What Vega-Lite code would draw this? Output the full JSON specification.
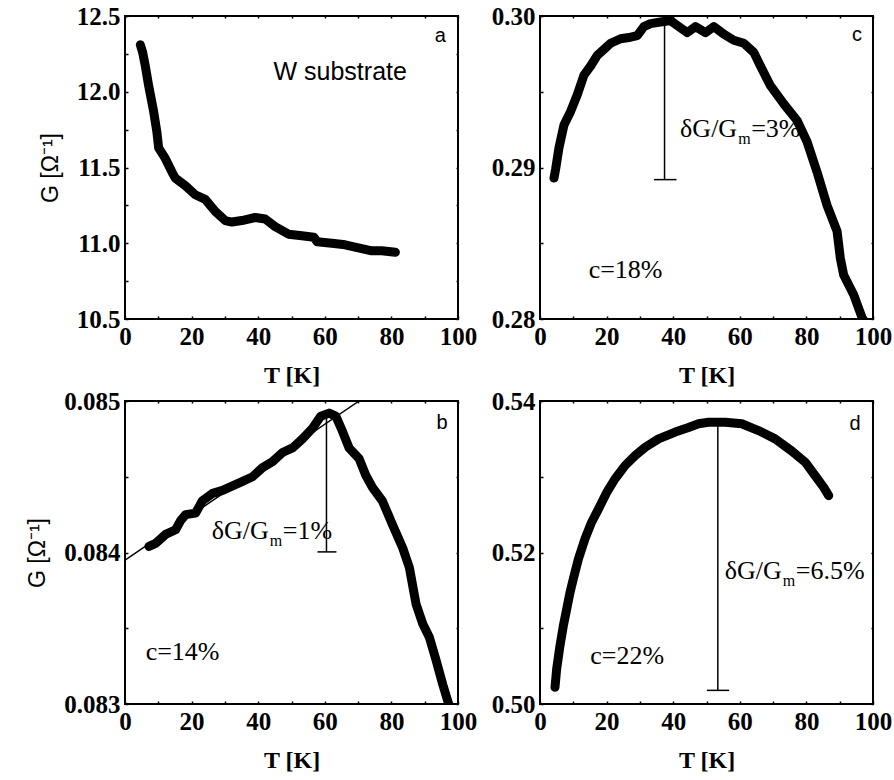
{
  "$schema": "https://vega.github.io/schema/vega-lite/v6.json",
  "padding": {"left": 25, "top": 3, "right": 0, "bottom": 0},
  "background": "white",
  "columns": 2,
  "spacing": {"row": 0, "column": 12},
  "datasets": {
    "a": [
      {"T": 4.6, "G": 12.31}, {"T": 5.3, "G": 12.26}, {"T": 6.1, "G": 12.17}, {"T": 7.1, "G": 12.04},
      {"T": 8.6, "G": 11.87}, {"T": 9.6, "G": 11.73}, {"T": 10.1, "G": 11.63}, {"T": 12.1, "G": 11.56},
      {"T": 14.1, "G": 11.47}, {"T": 15.1, "G": 11.43}, {"T": 18.1, "G": 11.38}, {"T": 21.1, "G": 11.32},
      {"T": 24.1, "G": 11.29}, {"T": 27.1, "G": 11.21}, {"T": 30.1, "G": 11.15}, {"T": 32.1, "G": 11.14},
      {"T": 35.1, "G": 11.15}, {"T": 39.1, "G": 11.17}, {"T": 42.1, "G": 11.16}, {"T": 45.1, "G": 11.11},
      {"T": 49.1, "G": 11.06}, {"T": 53.1, "G": 11.05}, {"T": 56.7, "G": 11.04}, {"T": 57.7, "G": 11.01},
      {"T": 62.1, "G": 11.0}, {"T": 66.1, "G": 10.99}, {"T": 70.1, "G": 10.97}, {"T": 74.1, "G": 10.95},
      {"T": 77.1, "G": 10.95}, {"T": 81.2, "G": 10.94}
    ],
    "c": [
      {"T": 4.2, "G": 0.2893}, {"T": 4.7, "G": 0.2899}, {"T": 5.7, "G": 0.2913}, {"T": 7.2, "G": 0.2928},
      {"T": 9.2, "G": 0.2937}, {"T": 11.2, "G": 0.2948}, {"T": 13.2, "G": 0.2961}, {"T": 15.2, "G": 0.2967},
      {"T": 17.2, "G": 0.2974}, {"T": 19.2, "G": 0.2978}, {"T": 21.2, "G": 0.2982}, {"T": 24.2, "G": 0.2985},
      {"T": 27.2, "G": 0.2986}, {"T": 29.2, "G": 0.2987}, {"T": 31.2, "G": 0.2993}, {"T": 33.2, "G": 0.2995},
      {"T": 36.2, "G": 0.2996}, {"T": 39.2, "G": 0.2997}, {"T": 41.7, "G": 0.2993}, {"T": 44.2, "G": 0.2989},
      {"T": 46.7, "G": 0.2993}, {"T": 49.7, "G": 0.2989}, {"T": 52.2, "G": 0.2993}, {"T": 55.2, "G": 0.2988},
      {"T": 58.2, "G": 0.2984}, {"T": 61.2, "G": 0.2982}, {"T": 64.2, "G": 0.2976}, {"T": 66.2, "G": 0.2967},
      {"T": 69.2, "G": 0.2954}, {"T": 73.2, "G": 0.2942}, {"T": 77.2, "G": 0.2931}, {"T": 80.2, "G": 0.2917},
      {"T": 83.2, "G": 0.2897}, {"T": 86.2, "G": 0.2875}, {"T": 89.2, "G": 0.2858}, {"T": 90.2, "G": 0.284},
      {"T": 91.2, "G": 0.2829}, {"T": 94.2, "G": 0.2816}, {"T": 96.7, "G": 0.2801}, {"T": 97.5, "G": 0.2798}
    ],
    "b": [
      {"T": 7.2, "G": 0.08404}, {"T": 9.2, "G": 0.08406}, {"T": 12.2, "G": 0.08412}, {"T": 15.2, "G": 0.08415},
      {"T": 16.7, "G": 0.08421}, {"T": 18.2, "G": 0.08425}, {"T": 21.2, "G": 0.08426}, {"T": 23.2, "G": 0.08434},
      {"T": 26.3, "G": 0.08439}, {"T": 29.3, "G": 0.08441}, {"T": 32.3, "G": 0.08444}, {"T": 35.3, "G": 0.08447},
      {"T": 38.3, "G": 0.0845}, {"T": 41.3, "G": 0.08456}, {"T": 44.3, "G": 0.0846}, {"T": 47.3, "G": 0.08466},
      {"T": 50.3, "G": 0.08469}, {"T": 53.3, "G": 0.08475}, {"T": 56.3, "G": 0.08482}, {"T": 58.8, "G": 0.0849},
      {"T": 61.3, "G": 0.08492}, {"T": 63.3, "G": 0.0849}, {"T": 65.3, "G": 0.0848}, {"T": 67.3, "G": 0.08469},
      {"T": 70.3, "G": 0.08462}, {"T": 72.3, "G": 0.08451}, {"T": 74.3, "G": 0.08443}, {"T": 77.3, "G": 0.08434},
      {"T": 80.4, "G": 0.08418}, {"T": 83.4, "G": 0.08403}, {"T": 85.4, "G": 0.0839}, {"T": 87.4, "G": 0.08366},
      {"T": 89.4, "G": 0.08353}, {"T": 91.4, "G": 0.08344}, {"T": 93.4, "G": 0.08329}, {"T": 95.4, "G": 0.08313},
      {"T": 97.2, "G": 0.083}, {"T": 98.0, "G": 0.08297}
    ],
    "bfit": [{"T": 0, "G": 0.08395}, {"T": 70.3, "G": 0.085}],
    "d": [
      {"T": 4.5, "G": 0.5022}, {"T": 5.0, "G": 0.5046}, {"T": 6.0, "G": 0.5077}, {"T": 7.0, "G": 0.5103},
      {"T": 8.0, "G": 0.5125}, {"T": 9.0, "G": 0.5147}, {"T": 10.0, "G": 0.5165}, {"T": 11.5, "G": 0.5191},
      {"T": 13.5, "G": 0.5218}, {"T": 15.5, "G": 0.524}, {"T": 17.5, "G": 0.5257}, {"T": 20.0, "G": 0.5279},
      {"T": 22.5, "G": 0.5297}, {"T": 25.6, "G": 0.5315}, {"T": 28.6, "G": 0.5328}, {"T": 31.6, "G": 0.5339},
      {"T": 35.6, "G": 0.535}, {"T": 40.6, "G": 0.5359}, {"T": 44.6, "G": 0.5365}, {"T": 47.6, "G": 0.537},
      {"T": 50.6, "G": 0.5372}, {"T": 55.6, "G": 0.5372}, {"T": 60.6, "G": 0.537}, {"T": 65.6, "G": 0.5361},
      {"T": 70.6, "G": 0.535}, {"T": 75.6, "G": 0.5334}, {"T": 79.7, "G": 0.5319}, {"T": 82.7, "G": 0.5301},
      {"T": 85.2, "G": 0.5286}, {"T": 86.7, "G": 0.5275}
    ]
  },
  "concat": [
    {
      "width": 333, "height": 303,
      "resolve": {"axis": {"x": "independent", "y": "independent"}},
      "layer": [
        {
          "data": {"name": "a"},
          "mark": {"type": "line", "color": "black", "strokeWidth": 9, "strokeCap": "round", "strokeJoin": "round", "clip": true},
          "encoding": {
            "x": {"field": "T", "type": "quantitative", "scale": {"domain": [0, 100], "nice": false, "zero": false},
              "axis": {"orient": "bottom", "values": [0, 10, 20, 30, 40, 50, 60, 70, 80, 90, 100], "labelExpr": "datum.value % 20 === 0 ? datum.label : ''", "title": "T [K]", "titlePadding": 14}},
            "y": {"field": "G", "type": "quantitative", "scale": {"domain": [10.5, 12.5], "nice": false, "zero": false},
              "axis": {"orient": "left", "values": [10.5, 10.75, 11, 11.25, 11.5, 11.75, 12, 12.25, 12.5], "labelExpr": "abs(datum.value*2 - round(datum.value*2)) < 1e-6 ? format(datum.value, '.1f') : ''", "title": "G [Ω⁻¹]", "titleFont": "Liberation Sans", "titleFontWeight": "normal", "titleFontSize": 23, "titlePadding": 14}}
          }
        },
        {
          "data": {"values": [{"T": 94.7, "G": 12.37, "label": "a"}]},
          "mark": {"type": "text", "font": "Liberation Sans", "fontSize": 20, "align": "center", "baseline": "middle", "color": "black"},
          "encoding": {
            "x": {"field": "T", "type": "quantitative", "scale": {"domain": [0, 100], "nice": false, "zero": false},
              "axis": {"orient": "top", "values": [0, 10, 20, 30, 40, 50, 60, 70, 80, 90, 100], "labels": false, "tickSize": -2, "title": null}},
            "y": {"field": "G", "type": "quantitative", "scale": {"domain": [10.5, 12.5], "nice": false, "zero": false},
              "axis": {"orient": "right", "values": [10.5, 10.75, 11, 11.25, 11.5, 11.75, 12, 12.25, 12.5], "labels": false, "tickSize": -2, "title": null}},
            "text": {"field": "label"}
          }
        },
        {
          "data": {"values": [{"T": 44.6, "G": 12.13, "label": "W substrate"}]},
          "mark": {"type": "text", "font": "Liberation Sans", "fontSize": 25, "align": "left", "baseline": "middle", "color": "black"},
          "encoding": {
            "x": {"field": "T", "type": "quantitative", "scale": {"domain": [0, 100], "nice": false, "zero": false}, "axis": null},
            "y": {"field": "G", "type": "quantitative", "scale": {"domain": [10.5, 12.5], "nice": false, "zero": false}, "axis": null},
            "text": {"field": "label"}
          }
        }
      ]
    },
    {
      "width": 333, "height": 303,
      "resolve": {"axis": {"x": "independent", "y": "independent"}},
      "layer": [
        {
          "data": {"name": "c"},
          "mark": {"type": "line", "color": "black", "strokeWidth": 9, "strokeCap": "round", "strokeJoin": "round", "clip": true},
          "encoding": {
            "x": {"field": "T", "type": "quantitative", "scale": {"domain": [0, 100], "nice": false, "zero": false},
              "axis": {"orient": "bottom", "values": [0, 10, 20, 30, 40, 50, 60, 70, 80, 90, 100], "labelExpr": "datum.value % 20 === 0 ? datum.label : ''", "title": "T [K]", "titlePadding": 14}},
            "y": {"field": "G", "type": "quantitative", "scale": {"domain": [0.28, 0.30], "nice": false, "zero": false},
              "axis": {"orient": "left", "values": [0.28, 0.285, 0.29, 0.295, 0.30], "labelExpr": "abs(datum.value*100 - round(datum.value*100)) < 1e-6 ? format(datum.value, '.2f') : ''", "title": null}}
          }
        },
        {
          "data": {"values": [{"T": 95.2, "G": 0.29873, "label": "c"}]},
          "mark": {"type": "text", "font": "Liberation Sans", "fontSize": 20, "align": "center", "baseline": "middle", "color": "black"},
          "encoding": {
            "x": {"field": "T", "type": "quantitative", "scale": {"domain": [0, 100], "nice": false, "zero": false},
              "axis": {"orient": "top", "values": [0, 10, 20, 30, 40, 50, 60, 70, 80, 90, 100], "labels": false, "tickSize": -2, "title": null}},
            "y": {"field": "G", "type": "quantitative", "scale": {"domain": [0.28, 0.30], "nice": false, "zero": false},
              "axis": {"orient": "right", "values": [0.28, 0.285, 0.29, 0.295, 0.30], "labels": false, "tickSize": -2, "title": null}},
            "text": {"field": "label"}
          }
        },
        {
          "data": {"values": [{"T": 37.4, "G1": 0.2999, "G2": 0.2892}]},
          "mark": {"type": "rule", "color": "black", "strokeWidth": 1.5},
          "encoding": {
            "x": {"field": "T", "type": "quantitative", "scale": {"domain": [0, 100], "nice": false, "zero": false}, "axis": null},
            "y": {"field": "G1", "type": "quantitative", "scale": {"domain": [0.28, 0.30], "nice": false, "zero": false}, "axis": null},
            "y2": {"field": "G2"}
          }
        },
        {
          "data": {"values": [{"T1": 34.2, "T2": 41.0, "G": 0.2892}]},
          "mark": {"type": "rule", "color": "black", "strokeWidth": 1.5},
          "encoding": {
            "x": {"field": "T1", "type": "quantitative", "scale": {"domain": [0, 100], "nice": false, "zero": false}, "axis": null},
            "x2": {"field": "T2"},
            "y": {"field": "G", "type": "quantitative", "scale": {"domain": [0.28, 0.30], "nice": false, "zero": false}, "axis": null}
          }
        },
        {
          "data": {"values": [{"T": 59.2, "G": 0.29256, "label": "δG/G"}]},
          "mark": {"type": "text", "font": "Liberation Serif", "fontSize": 26, "align": "right", "baseline": "middle", "color": "black"},
          "encoding": {
            "x": {"field": "T", "type": "quantitative", "scale": {"domain": [0, 100], "nice": false, "zero": false}, "axis": null},
            "y": {"field": "G", "type": "quantitative", "scale": {"domain": [0.28, 0.30], "nice": false, "zero": false}, "axis": null},
            "text": {"field": "label"}
          }
        },
        {
          "data": {"values": [{"T": 59.2, "G": 0.29256, "label": "m"}]},
          "mark": {"type": "text", "font": "Liberation Serif", "fontSize": 16, "align": "left", "baseline": "middle", "dx": 1, "dy": 10, "color": "black"},
          "encoding": {
            "x": {"field": "T", "type": "quantitative", "scale": {"domain": [0, 100], "nice": false, "zero": false}, "axis": null},
            "y": {"field": "G", "type": "quantitative", "scale": {"domain": [0.28, 0.30], "nice": false, "zero": false}, "axis": null},
            "text": {"field": "label"}
          }
        },
        {
          "data": {"values": [{"T": 59.2, "G": 0.29256, "label": "=3%"}]},
          "mark": {"type": "text", "font": "Liberation Serif", "fontSize": 26, "align": "left", "baseline": "middle", "dx": 14, "color": "black"},
          "encoding": {
            "x": {"field": "T", "type": "quantitative", "scale": {"domain": [0, 100], "nice": false, "zero": false}, "axis": null},
            "y": {"field": "G", "type": "quantitative", "scale": {"domain": [0.28, 0.30], "nice": false, "zero": false}, "axis": null},
            "text": {"field": "label"}
          }
        },
        {
          "data": {"values": [{"T": 25.7, "G": 0.28321, "label": "c=18%"}]},
          "mark": {"type": "text", "font": "Liberation Serif", "fontSize": 26, "align": "center", "baseline": "middle", "color": "black"},
          "encoding": {
            "x": {"field": "T", "type": "quantitative", "scale": {"domain": [0, 100], "nice": false, "zero": false}, "axis": null},
            "y": {"field": "G", "type": "quantitative", "scale": {"domain": [0.28, 0.30], "nice": false, "zero": false}, "axis": null},
            "text": {"field": "label"}
          }
        }
      ]
    },
    {
      "width": 333, "height": 303,
      "resolve": {"axis": {"x": "independent", "y": "independent"}},
      "layer": [
        {
          "data": {"name": "b"},
          "mark": {"type": "line", "color": "black", "strokeWidth": 9, "strokeCap": "round", "strokeJoin": "round", "clip": true},
          "encoding": {
            "x": {"field": "T", "type": "quantitative", "scale": {"domain": [0, 100], "nice": false, "zero": false},
              "axis": {"orient": "bottom", "values": [0, 10, 20, 30, 40, 50, 60, 70, 80, 90, 100], "labelExpr": "datum.value % 20 === 0 ? datum.label : ''", "title": "T [K]", "titlePadding": 14}},
            "y": {"field": "G", "type": "quantitative", "scale": {"domain": [0.083, 0.085], "nice": false, "zero": false},
              "axis": {"orient": "left", "values": [0.083, 0.0835, 0.084, 0.0845, 0.085], "labelExpr": "abs(datum.value*1000 - round(datum.value*1000)) < 1e-6 ? format(datum.value, '.3f') : ''", "title": "G [Ω⁻¹]", "titleFont": "Liberation Sans", "titleFontWeight": "normal", "titleFontSize": 23, "titlePadding": 14}}
          }
        },
        {
          "data": {"values": [{"T": 95.2, "G": 0.084855, "label": "b"}]},
          "mark": {"type": "text", "font": "Liberation Sans", "fontSize": 20, "align": "center", "baseline": "middle", "color": "black"},
          "encoding": {
            "x": {"field": "T", "type": "quantitative", "scale": {"domain": [0, 100], "nice": false, "zero": false},
              "axis": {"orient": "top", "values": [0, 10, 20, 30, 40, 50, 60, 70, 80, 90, 100], "labels": false, "tickSize": -2, "title": null}},
            "y": {"field": "G", "type": "quantitative", "scale": {"domain": [0.083, 0.085], "nice": false, "zero": false},
              "axis": {"orient": "right", "values": [0.083, 0.0835, 0.084, 0.0845, 0.085], "labels": false, "tickSize": -2, "title": null}},
            "text": {"field": "label"}
          }
        },
        {
          "data": {"name": "bfit"},
          "mark": {"type": "line", "color": "black", "strokeWidth": 1.5, "clip": true},
          "encoding": {
            "x": {"field": "T", "type": "quantitative", "scale": {"domain": [0, 100], "nice": false, "zero": false}, "axis": null},
            "y": {"field": "G", "type": "quantitative", "scale": {"domain": [0.083, 0.085], "nice": false, "zero": false}, "axis": null}
          }
        },
        {
          "data": {"values": [{"T": 60.5, "G1": 0.08493, "G2": 0.084004}]},
          "mark": {"type": "rule", "color": "black", "strokeWidth": 1.5},
          "encoding": {
            "x": {"field": "T", "type": "quantitative", "scale": {"domain": [0, 100], "nice": false, "zero": false}, "axis": null},
            "y": {"field": "G1", "type": "quantitative", "scale": {"domain": [0.083, 0.085], "nice": false, "zero": false}, "axis": null},
            "y2": {"field": "G2"}
          }
        },
        {
          "data": {"values": [{"T1": 57.8, "T2": 63.5, "G": 0.084004}]},
          "mark": {"type": "rule", "color": "black", "strokeWidth": 1.5},
          "encoding": {
            "x": {"field": "T1", "type": "quantitative", "scale": {"domain": [0, 100], "nice": false, "zero": false}, "axis": null},
            "x2": {"field": "T2"},
            "y": {"field": "G", "type": "quantitative", "scale": {"domain": [0.083, 0.085], "nice": false, "zero": false}, "axis": null}
          }
        },
        {
          "data": {"values": [{"T": 43.2, "G": 0.084143, "label": "δG/G"}]},
          "mark": {"type": "text", "font": "Liberation Serif", "fontSize": 26, "align": "right", "baseline": "middle", "color": "black"},
          "encoding": {
            "x": {"field": "T", "type": "quantitative", "scale": {"domain": [0, 100], "nice": false, "zero": false}, "axis": null},
            "y": {"field": "G", "type": "quantitative", "scale": {"domain": [0.083, 0.085], "nice": false, "zero": false}, "axis": null},
            "text": {"field": "label"}
          }
        },
        {
          "data": {"values": [{"T": 43.2, "G": 0.084143, "label": "m"}]},
          "mark": {"type": "text", "font": "Liberation Serif", "fontSize": 16, "align": "left", "baseline": "middle", "dx": 1, "dy": 10, "color": "black"},
          "encoding": {
            "x": {"field": "T", "type": "quantitative", "scale": {"domain": [0, 100], "nice": false, "zero": false}, "axis": null},
            "y": {"field": "G", "type": "quantitative", "scale": {"domain": [0.083, 0.085], "nice": false, "zero": false}, "axis": null},
            "text": {"field": "label"}
          }
        },
        {
          "data": {"values": [{"T": 43.2, "G": 0.084143, "label": "=1%"}]},
          "mark": {"type": "text", "font": "Liberation Serif", "fontSize": 26, "align": "left", "baseline": "middle", "dx": 14, "color": "black"},
          "encoding": {
            "x": {"field": "T", "type": "quantitative", "scale": {"domain": [0, 100], "nice": false, "zero": false}, "axis": null},
            "y": {"field": "G", "type": "quantitative", "scale": {"domain": [0.083, 0.085], "nice": false, "zero": false}, "axis": null},
            "text": {"field": "label"}
          }
        },
        {
          "data": {"values": [{"T": 17.3, "G": 0.083342, "label": "c=14%"}]},
          "mark": {"type": "text", "font": "Liberation Serif", "fontSize": 26, "align": "center", "baseline": "middle", "color": "black"},
          "encoding": {
            "x": {"field": "T", "type": "quantitative", "scale": {"domain": [0, 100], "nice": false, "zero": false}, "axis": null},
            "y": {"field": "G", "type": "quantitative", "scale": {"domain": [0.083, 0.085], "nice": false, "zero": false}, "axis": null},
            "text": {"field": "label"}
          }
        }
      ]
    },
    {
      "width": 333, "height": 303,
      "resolve": {"axis": {"x": "independent", "y": "independent"}},
      "layer": [
        {
          "data": {"name": "d"},
          "mark": {"type": "line", "color": "black", "strokeWidth": 9, "strokeCap": "round", "strokeJoin": "round", "clip": true},
          "encoding": {
            "x": {"field": "T", "type": "quantitative", "scale": {"domain": [0, 100], "nice": false, "zero": false},
              "axis": {"orient": "bottom", "values": [0, 10, 20, 30, 40, 50, 60, 70, 80, 90, 100], "labelExpr": "datum.value % 20 === 0 ? datum.label : ''", "title": "T [K]", "titlePadding": 14}},
            "y": {"field": "G", "type": "quantitative", "scale": {"domain": [0.5, 0.54], "nice": false, "zero": false},
              "axis": {"orient": "left", "values": [0.5, 0.51, 0.52, 0.53, 0.54], "labelExpr": "abs(datum.value*50 - round(datum.value*50)) < 1e-6 ? format(datum.value, '.2f') : ''", "title": null}}
          }
        },
        {
          "data": {"values": [{"T": 94.6, "G": 0.53696, "label": "d"}]},
          "mark": {"type": "text", "font": "Liberation Sans", "fontSize": 20, "align": "center", "baseline": "middle", "color": "black"},
          "encoding": {
            "x": {"field": "T", "type": "quantitative", "scale": {"domain": [0, 100], "nice": false, "zero": false},
              "axis": {"orient": "top", "values": [0, 10, 20, 30, 40, 50, 60, 70, 80, 90, 100], "labels": false, "tickSize": -2, "title": null}},
            "y": {"field": "G", "type": "quantitative", "scale": {"domain": [0.5, 0.54], "nice": false, "zero": false},
              "axis": {"orient": "right", "values": [0.5, 0.51, 0.52, 0.53, 0.54], "labels": false, "tickSize": -2, "title": null}},
            "text": {"field": "label"}
          }
        },
        {
          "data": {"values": [{"T": 53.4, "G1": 0.5367, "G2": 0.5018}]},
          "mark": {"type": "rule", "color": "black", "strokeWidth": 1.5},
          "encoding": {
            "x": {"field": "T", "type": "quantitative", "scale": {"domain": [0, 100], "nice": false, "zero": false}, "axis": null},
            "y": {"field": "G1", "type": "quantitative", "scale": {"domain": [0.5, 0.54], "nice": false, "zero": false}, "axis": null},
            "y2": {"field": "G2"}
          }
        },
        {
          "data": {"values": [{"T1": 50.1, "T2": 56.8, "G": 0.5018}]},
          "mark": {"type": "rule", "color": "black", "strokeWidth": 1.5},
          "encoding": {
            "x": {"field": "T1", "type": "quantitative", "scale": {"domain": [0, 100], "nice": false, "zero": false}, "axis": null},
            "x2": {"field": "T2"},
            "y": {"field": "G", "type": "quantitative", "scale": {"domain": [0.5, 0.54], "nice": false, "zero": false}, "axis": null}
          }
        },
        {
          "data": {"values": [{"T": 72.6, "G": 0.5176, "label": "δG/G"}]},
          "mark": {"type": "text", "font": "Liberation Serif", "fontSize": 26, "align": "right", "baseline": "middle", "color": "black"},
          "encoding": {
            "x": {"field": "T", "type": "quantitative", "scale": {"domain": [0, 100], "nice": false, "zero": false}, "axis": null},
            "y": {"field": "G", "type": "quantitative", "scale": {"domain": [0.5, 0.54], "nice": false, "zero": false}, "axis": null},
            "text": {"field": "label"}
          }
        },
        {
          "data": {"values": [{"T": 72.6, "G": 0.5176, "label": "m"}]},
          "mark": {"type": "text", "font": "Liberation Serif", "fontSize": 16, "align": "left", "baseline": "middle", "dx": 1, "dy": 10, "color": "black"},
          "encoding": {
            "x": {"field": "T", "type": "quantitative", "scale": {"domain": [0, 100], "nice": false, "zero": false}, "axis": null},
            "y": {"field": "G", "type": "quantitative", "scale": {"domain": [0.5, 0.54], "nice": false, "zero": false}, "axis": null},
            "text": {"field": "label"}
          }
        },
        {
          "data": {"values": [{"T": 72.6, "G": 0.5176, "label": "=6.5%"}]},
          "mark": {"type": "text", "font": "Liberation Serif", "fontSize": 26, "align": "left", "baseline": "middle", "dx": 14, "color": "black"},
          "encoding": {
            "x": {"field": "T", "type": "quantitative", "scale": {"domain": [0, 100], "nice": false, "zero": false}, "axis": null},
            "y": {"field": "G", "type": "quantitative", "scale": {"domain": [0.5, 0.54], "nice": false, "zero": false}, "axis": null},
            "text": {"field": "label"}
          }
        },
        {
          "data": {"values": [{"T": 26.2, "G": 0.5064, "label": "c=22%"}]},
          "mark": {"type": "text", "font": "Liberation Serif", "fontSize": 26, "align": "center", "baseline": "middle", "color": "black"},
          "encoding": {
            "x": {"field": "T", "type": "quantitative", "scale": {"domain": [0, 100], "nice": false, "zero": false}, "axis": null},
            "y": {"field": "G", "type": "quantitative", "scale": {"domain": [0.5, 0.54], "nice": false, "zero": false}, "axis": null},
            "text": {"field": "label"}
          }
        }
      ]
    }
  ],
  "config": {
    "view": {"stroke": "black", "strokeWidth": 2},
    "axis": {
      "domain": false, "grid": false, "tickColor": "black", "tickWidth": 1.5, "tickSize": -3,
      "labelPadding": 8, "labelFont": "Liberation Serif", "labelFontSize": 25, "labelFontWeight": "bold",
      "labelColor": "black", "labelFlush": false, "labelOverlap": false,
      "titleFont": "Liberation Serif", "titleFontSize": 24, "titleFontWeight": "bold", "titleColor": "black"
    }
  }
}
